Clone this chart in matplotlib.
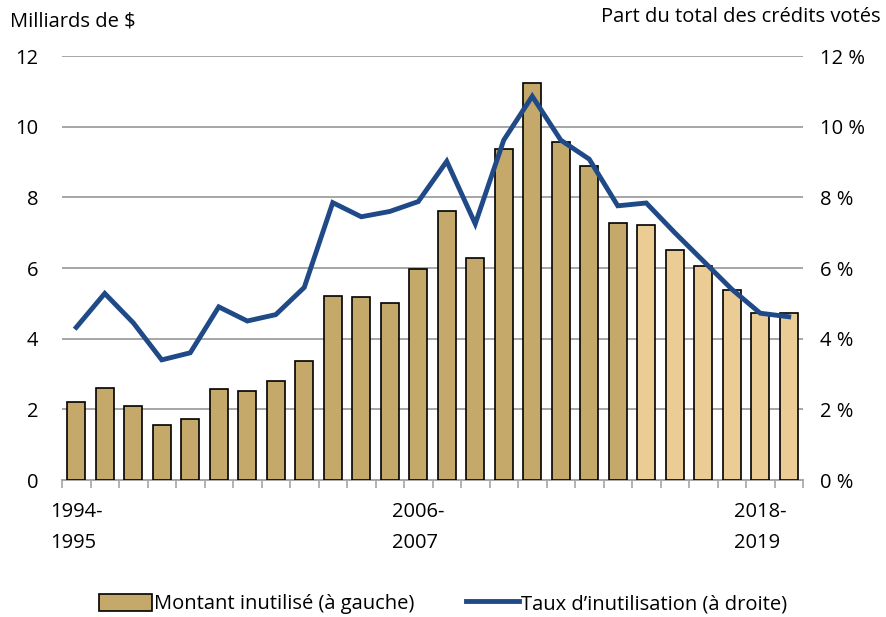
"""Montant inutilisé et taux d'inutilisation des crédits votés, 1994-1995 à 2019-2020."""

import matplotlib
matplotlib.use("Agg")
import matplotlib.pyplot as plt
from matplotlib.lines import Line2D
from matplotlib.patches import Patch

plt.rcParams["font.family"] = ["Open Sans", "DejaVu Sans"]

LABELED = {0: "1994-\n1995", 12: "2006-\n2007", 24: "2018-\n2019"}

# Montant inutilisé (milliards de $), axe de gauche
unused = [2.2, 2.6, 2.1, 1.55, 1.72, 2.58, 2.52, 2.8, 3.37, 5.2, 5.17, 5.0, 5.97,
          7.6, 6.27, 9.36, 11.23, 9.56, 8.9, 7.26, 7.21, 6.5, 6.05, 5.39, 4.74, 4.74]
# Taux d'inutilisation (%), axe de droite
rate = [4.32, 5.28, 4.45, 3.4, 3.6, 4.9, 4.5, 4.68, 5.45, 7.85, 7.45, 7.6, 7.88,
        9.02, 7.25, 9.62, 10.86, 9.62, 9.08, 7.76, 7.84, 7.0, 6.2, 5.4, 4.72, 4.62]

DARK = "#c4a96b"
LIGHT = "#ebcc94"
BLUE = "#1f4a87"
GRID = "#a6a6a6"
FS = 14.5

fig = plt.figure(figsize=(8.86, 6.17), dpi=100)
ax = fig.add_axes([62 / 886, 137 / 617, 741 / 886, 424 / 617])
x = list(range(len(unused)))
colors = [DARK if i < 20 else LIGHT for i in x]

ax.bar(x, unused, width=0.64, color=colors, edgecolor="black", linewidth=1.2, zorder=3)
ax.set_xlim(-0.5, len(unused) - 0.5)
ax.set_ylim(0, 12)
ax.set_yticks(range(0, 13, 2))
ax.yaxis.grid(True, color=GRID, linewidth=1.4, zorder=0)
ax.tick_params(axis="y", length=0, pad=17, labelsize=FS)
for s in ("top", "left", "right"):
    ax.spines[s].set_visible(False)
ax.spines["bottom"].set_color(GRID)
ax.spines["bottom"].set_linewidth(1.4)

ax.set_xticks([i - 0.5 for i in range(len(unused) + 1)], minor=True)
ax.tick_params(axis="x", which="minor", length=6, width=1.2, color=GRID)
ax.set_xticks(list(LABELED))
ax.set_xticklabels(list(LABELED.values()), fontsize=FS, linespacing=1.75,
                   multialignment="left")
ax.tick_params(axis="x", which="major", length=0, pad=16)

ax2 = ax.twinx()
ax2.plot(x, rate, color=BLUE, linewidth=3.5, solid_joinstyle="miter", zorder=4)
ax2.set_ylim(0, 12)
ax2.set_yticks(range(0, 13, 2))
ax2.set_yticklabels([f"{v} %" for v in range(0, 13, 2)])
ax2.tick_params(axis="y", length=0, pad=12, labelsize=FS)
for s in ("top", "left", "right", "bottom"):
    ax2.spines[s].set_visible(False)

fig.text(10 / 886, 1 - 22 / 617, "Milliards de $", fontsize=FS, va="center", ha="left")
fig.text(881 / 886, 1 - 17 / 617, "Part du total des crédits votés", fontsize=FS,
         va="center", ha="right")

handles = [Patch(facecolor=DARK, edgecolor="black", linewidth=1.2),
           Line2D([], [], color=BLUE, linewidth=3.5)]
fig.legend(handles, ["Montant inutilisé (à gauche)", "Taux d\u2019inutilisation (à droite)"],
           loc="center", bbox_to_anchor=(0.5, 1 - 604 / 617), ncol=2, frameon=False,
           fontsize=FS, handlelength=2.6, handletextpad=0.1, columnspacing=2.6,
           handleheight=0.9)

fig.savefig("out.png", dpi=100)
